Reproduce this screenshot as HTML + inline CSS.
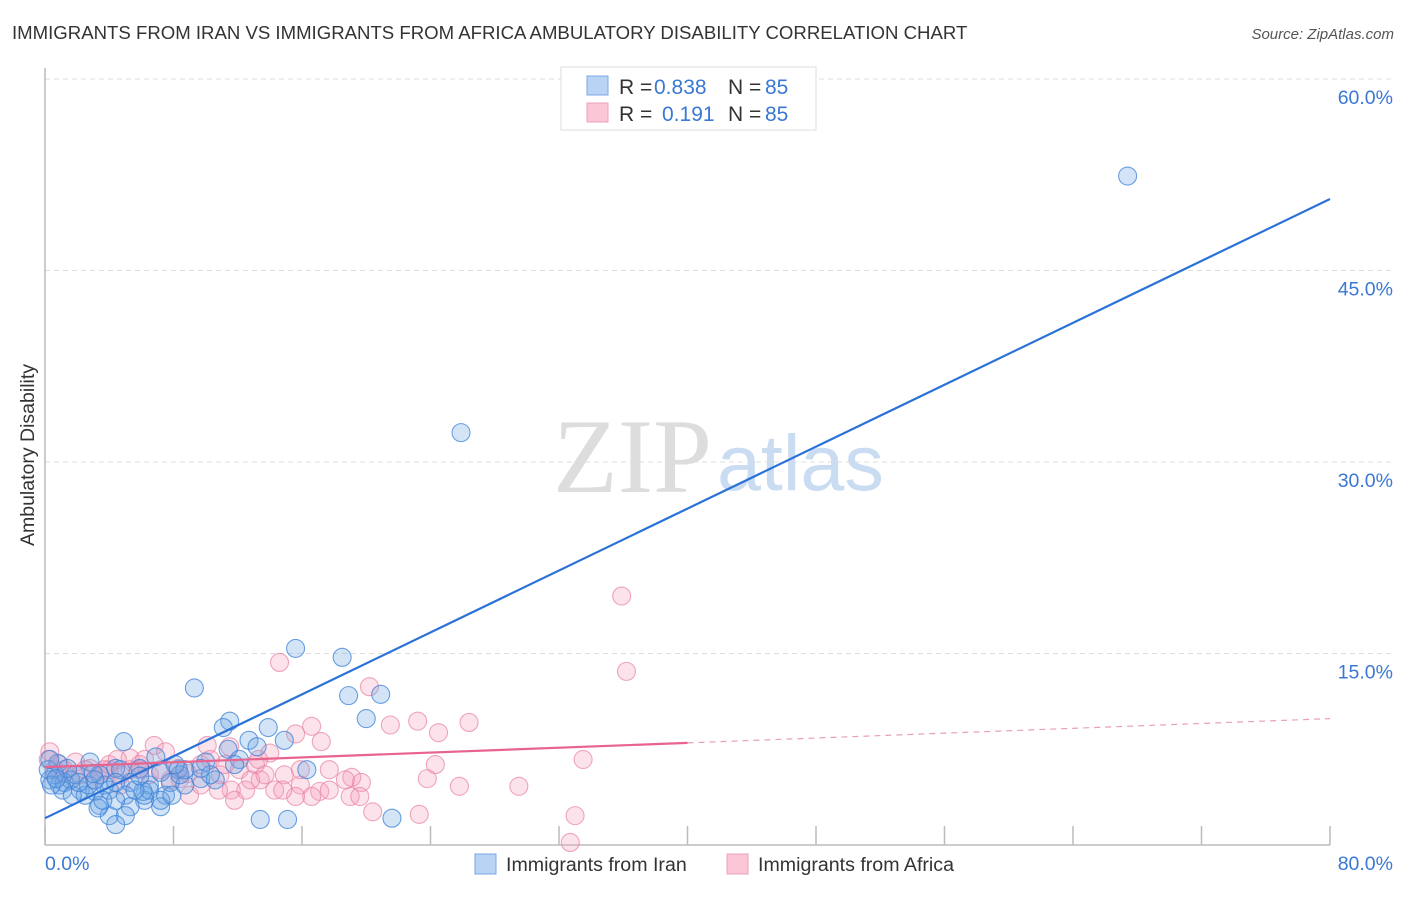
<!DOCTYPE html>
<html><head><meta charset="utf-8"><style>
body{margin:0;background:#fff;font-family:"Liberation Sans",sans-serif;}
</style></head><body>
<svg width="1406" height="892" xmlns="http://www.w3.org/2000/svg" font-family="Liberation Sans, sans-serif">
<text x="12" y="39" font-size="18.6" fill="#333">IMMIGRANTS FROM IRAN VS IMMIGRANTS FROM AFRICA AMBULATORY DISABILITY CORRELATION CHART</text>
<text x="1394" y="39" font-size="15" fill="#555" font-style="italic" text-anchor="end">Source: ZipAtlas.com</text>
<g>
<text x="553" y="492" font-size="106" fill="#ddd" font-family="Liberation Serif, serif">ZIP</text>
<text x="717" y="490" font-size="79" fill="#c9dcf2">atlas</text>
</g>
<g id="grid"></g>
<g id="axes"></g>
<text transform="translate(34,455) rotate(-90)" font-size="19.5" fill="#333" text-anchor="middle">Ambulatory Disability</text>
<g id="pts"></g>
<g id="trend"></g>
<g>
<rect x="561" y="67" width="255" height="63" fill="#fff" stroke="#ddd"/>
<rect x="587" y="76" width="21" height="19" fill="#b8d3f4" stroke="#7aaae6"/>
<rect x="587" y="103" width="21" height="19" fill="#fbc6d5" stroke="#eea0b8"/>
<text y="94" font-size="21"><tspan x="619" fill="#333">R = </tspan><tspan x="654" fill="#3a78d4">0.838</tspan><tspan x="728" fill="#333">N = </tspan><tspan x="765" fill="#3a78d4">85</tspan></text>
<text y="121" font-size="21"><tspan x="619" fill="#333">R = </tspan><tspan x="662" fill="#3a78d4">0.191</tspan><tspan x="728" fill="#333">N = </tspan><tspan x="765" fill="#3a78d4">85</tspan></text>
</g>
<g>
<rect x="475" y="854" width="21" height="20" fill="#b8d3f4" stroke="#7aaae6"/>
<text x="506" y="871" font-size="19.6" fill="#333">Immigrants from Iran</text>
<rect x="727" y="854" width="21" height="20" fill="#fbc6d5" stroke="#eea0b8"/>
<text x="758" y="871" font-size="19.6" fill="#333">Immigrants from Africa</text>
</g>
</svg>
<script>
const yTicks=[15,30,45,60];
const yTickLabels=["15.0%","30.0%","45.0%","60.0%"];
const xTicks=[0,8,16,24,32,40,48,56,64,72,80];
const xEndLabels=["0.0%","80.0%"];
const iranX=[67.4,25.9,15.6,18.5,9.3,18.9,20.9,20.0,11.5,11.1,13.9,12.7,14.9,4.9,11.4,13.2,6.9,10.0,12.1,16.3,4.4,2.8,0.8,5.9,8.3,9.7,5.3,3.4,1.6,0.3,0.9,2.2,3.1,4.0,5.0,6.2,7.5,7.2,5.3,3.4,4.4,2.5,1.2,0.6,1.9,0.2,4.7,3.7,6.5,7.8,8.7,10.6,8.4,1.1,1.7,2.7,0.4,1.4,3.1,4.0,5.0,6.2,3.3,3.6,6.5,8.7,10.3,3.0,2.1,0.7,0.3,13.4,15.1,21.6,4.4,6.1,4.4,5.6,7.2,7.9,7.2,5.9,9.7,11.8,8.1];
const iranY=[52.4,32.3,15.4,14.7,12.3,11.7,11.8,9.9,9.7,9.2,9.2,8.2,8.2,8.1,7.5,7.7,6.9,6.5,6.7,5.9,6.0,6.5,6.4,6.0,5.9,5.2,4.9,5.5,5.1,5.1,4.7,4.3,4.2,4.3,3.9,3.5,3.9,3.0,3.0,3.1,3.5,3.9,4.9,5.5,5.5,5.9,5.9,4.7,4.7,4.9,4.7,5.1,5.5,4.3,3.9,4.7,4.7,6.0,5.1,2.3,2.3,3.9,2.9,3.5,4.3,5.9,5.5,5.6,4.9,5.2,6.7,2.0,2.0,2.1,1.6,4.2,4.9,4.3,3.5,3.9,5.7,5.4,6.0,6.3,6.3];
const africaX=[35.9,36.2,14.6,20.2,26.4,23.2,21.5,16.6,24.5,17.2,15.6,14.0,11.5,6.8,10.1,7.5,5.3,33.5,0.3,0.2,0.9,1.9,2.8,4.0,5.9,8.3,8.9,10.9,12.1,13.1,14.9,15.9,17.1,19.1,19.7,17.7,16.6,15.6,14.3,13.4,12.5,11.6,10.8,19.0,20.4,19.6,23.3,23.8,25.8,29.5,33.0,32.7,24.3,13.3,9.7,7.8,4.7,3.4,2.2,1.2,0.6,2.5,6.5,7.2,8.4,10.3,11.2,12.8,13.7,14.8,15.9,17.7,18.7,9.0,11.8,4.7,4.0,3.1,1.6,5.9,0.9,5.3,9.7,6.2,4.5,3.7];
const africaY=[19.5,13.6,14.3,12.4,9.6,9.7,9.4,9.3,8.8,8.1,8.7,7.2,7.7,7.8,7.8,7.3,6.8,6.7,7.3,6.7,6.3,6.5,6.0,5.9,6.3,6.0,5.6,5.5,5.9,6.3,5.5,4.7,4.2,5.3,4.9,4.3,3.8,3.8,4.3,5.1,4.3,4.3,4.3,3.8,2.6,3.8,2.4,5.2,4.6,4.6,2.3,0.2,6.3,6.7,6.3,5.1,5.5,5.5,5.5,5.9,5.9,5.9,5.5,5.9,5.2,6.7,6.3,5.1,5.5,4.3,5.9,5.9,5.1,3.9,3.5,4.7,6.3,5.1,5.1,5.9,5.5,5.9,4.7,6.7,6.7,5.9];
const iranTrend=[2.1,50.6];
const africaTrend=[6.1,9.9];
const africaSolidEnd=40;
const NS="http://www.w3.org/2000/svg";
const X0=45,X1=1330,Y0=845,Ypx60=79;
function sx(v){return X0+(X1-X0)*v/80;}
function sy(v){return Y0-(Y0-Ypx60)*v/60;}
function mk(t,a,p){const e=document.createElementNS(NS,t);for(const k in a)e.setAttribute(k,a[k]);p.appendChild(e);return e;}
const grid=document.getElementById('grid'),axes=document.getElementById('axes'),pts=document.getElementById('pts'),tr=document.getElementById('trend');
yTicks.forEach((t,i)=>{
 const l=mk('line',{x1:X0,x2:1394,y1:sy(t),y2:sy(t),stroke:'#ddd','stroke-dasharray':'5,4'},grid);
 
 
 const tx=mk('text',{x:1393,y:sy(t)+25,'font-size':19.5,fill:'#3a78d4','text-anchor':'end'},axes);
 tx.textContent=yTickLabels[i];
 
 
});
const ya=mk('line',{x1:X0,x2:X0,y1:68,y2:Y0,stroke:'#bbb','stroke-width':1.5},axes);


const xa=mk('line',{x1:X0,x2:X1,y1:Y0,y2:Y0,stroke:'#bbb','stroke-width':1.5},axes);


xTicks.forEach(t=>{
 const l=mk('line',{x1:sx(t),x2:sx(t),y1:826,y2:Y0,stroke:'#bbb','stroke-width':1.5},axes);
 
 
});
[0,80].forEach((t,i)=>{
 const tx=mk('text',{x:i?1393:45,y:870,'font-size':19.5,fill:'#3a78d4','text-anchor':i?'end':'start'},axes);
 tx.textContent=xEndLabels[i];
 
 
});
function dots(xs,ys,fill,stroke,name){
 xs.forEach((x,i)=>{
  const c=mk('circle',{cx:sx(x),cy:sy(ys[i]),r:9,fill:fill,stroke:stroke,'stroke-width':1.1},pts);
  
  
 });
}
dots(africaX,africaY,'rgba(245,160,188,0.3)','rgba(232,130,162,0.7)','africa-point');
dots(iranX,iranY,'rgba(110,165,230,0.3)','rgba(60,130,215,0.75)','iran-point');
const bl=mk('line',{x1:sx(0),y1:sy(iranTrend[0]),x2:sx(80),y2:sy(iranTrend[1]),stroke:'#2a72d8','stroke-width':2.2},tr);


const ay=v=>africaTrend[0]+(africaTrend[1]-africaTrend[0])*v/80;
const pl=mk('line',{x1:sx(0),y1:sy(ay(0)),x2:sx(africaSolidEnd),y2:sy(ay(africaSolidEnd)),stroke:'#e8648e','stroke-width':2.2},tr);


const pd=mk('line',{x1:sx(africaSolidEnd),y1:sy(ay(africaSolidEnd)),x2:sx(80),y2:sy(ay(80)),stroke:'#e8a0b6','stroke-width':1.2,'stroke-dasharray':'6,5'},tr);


</script>
</body></html>
